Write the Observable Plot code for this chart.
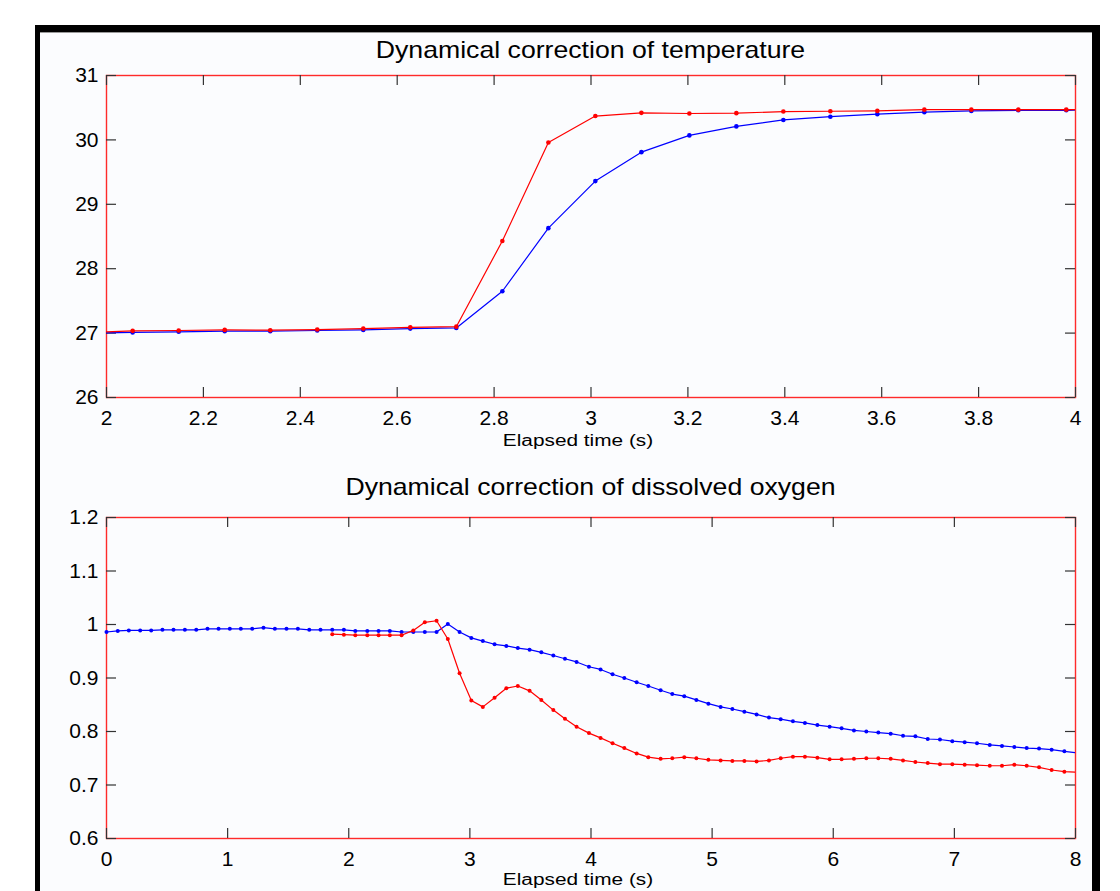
<!DOCTYPE html>
<html><head><meta charset="utf-8">
<script src="https://cdn.jsdelivr.net/npm/d3@7"></script>
<script src="https://cdn.jsdelivr.net/npm/@observablehq/plot@0.6"></script>
<style>
html,body{margin:0;padding:0;background:#fff;width:1120px;height:891px;overflow:hidden;font-family:"Liberation Sans",Arial,Helvetica,sans-serif;}
#frame{position:absolute;left:35px;top:25px;width:1052px;height:900px;border-left:5px solid #000;border-right:8px solid #000;border-top:7px solid #000;background:#fbfcfe;box-shadow:inset 0 1px 0 #999;}
.title{position:absolute;left:106px;width:969px;text-align:center;font-size:24px;line-height:28px;color:#000;white-space:nowrap;transform:scaleX(1.11);transform-origin:center;}
.xlab{position:absolute;left:78px;width:1000px;text-align:center;font-size:16px;line-height:18px;color:#000;white-space:nowrap;transform:scaleX(1.3);transform-origin:500px 50%;}
.chart{position:absolute;left:40px;}
</style></head>
<body>
<div id="frame"></div>
<div class="title" style="top:36px">Dynamical correction of temperature</div>
<div class="chart" id="c1" style="top:60px"></div>
<div class="xlab" style="top:432px">Elapsed time (s)</div>
<div class="title" style="top:473px">Dynamical correction of dissolved oxygen</div>
<div class="chart" id="c2" style="top:500px"></div>
<div class="xlab" style="top:871px">Elapsed time (s)</div>
<script>
// ---- Temperature panel ----
const tempTime = [1.960, 2.054, 2.149, 2.244, 2.338, 2.435, 2.530, 2.627, 2.722, 2.817, 2.912, 3.009, 3.104, 3.203, 3.300, 3.397, 3.494, 3.591, 3.688, 3.785, 3.882, 3.981, 4.078];
const tempRaw = [27.00, 27.01, 27.02, 27.03, 27.03, 27.04, 27.05, 27.07, 27.08, 27.65, 28.63, 29.36, 29.81, 30.07, 30.21, 30.31, 30.36, 30.40, 30.43, 30.45, 30.46, 30.46, 30.47];
const tempCorr = [27.01, 27.035, 27.04, 27.05, 27.045, 27.055, 27.07, 27.09, 27.10, 28.43, 29.96, 30.37, 30.42, 30.41, 30.415, 30.44, 30.445, 30.45, 30.47, 30.47, 30.47, 30.47, 30.47];
const tempXTicks = [2, 2.2, 2.4, 2.6, 2.8, 3, 3.2, 3.4, 3.6, 3.8, 4];
const tempYTicks = [26, 27, 28, 29, 30, 31];

// ---- Dissolved oxygen panel ----
const doTime = [0.000, 0.093, 0.184, 0.278, 0.369, 0.462, 0.553, 0.647, 0.741, 0.834, 0.925, 1.018, 1.109, 1.203, 1.296, 1.390, 1.486, 1.580, 1.674, 1.767,
  1.864, 1.960, 2.054, 2.153, 2.246, 2.339, 2.436, 2.533, 2.628, 2.725, 2.818, 2.915, 3.012, 3.107, 3.204, 3.301, 3.396, 3.493, 3.590, 3.689,
  3.785, 3.881, 3.983, 4.079, 4.178, 4.275, 4.377, 4.473, 4.575, 4.671, 4.770, 4.870, 4.969, 5.070, 5.167, 5.266, 5.367, 5.469, 5.566, 5.667,
  5.766, 5.869, 5.970, 6.069, 6.171, 6.273, 6.372, 6.474, 6.576, 6.678, 6.780, 6.881, 6.983, 7.085, 7.187, 7.292, 7.393, 7.495, 7.597, 7.699,
  7.803, 7.908, 8.010];
const doRaw = [0.986, 0.988, 0.989, 0.989, 0.989, 0.990, 0.990, 0.990, 0.990, 0.992, 0.992, 0.992, 0.992, 0.992, 0.994, 0.992, 0.992, 0.992, 0.990, 0.990,
  0.990, 0.990, 0.988, 0.988, 0.988, 0.988, 0.986, 0.986, 0.986, 0.986, 1.001, 0.986, 0.975, 0.969, 0.963, 0.960, 0.956, 0.953, 0.948, 0.942,
  0.936, 0.930, 0.921, 0.916, 0.907, 0.900, 0.892, 0.885, 0.877, 0.870, 0.866, 0.859, 0.852, 0.846, 0.842, 0.837, 0.832, 0.826, 0.823, 0.819,
  0.816, 0.812, 0.809, 0.806, 0.802, 0.800, 0.798, 0.796, 0.792, 0.791, 0.786, 0.785, 0.782, 0.780, 0.778, 0.775, 0.773, 0.771, 0.769, 0.768,
  0.766, 0.763, 0.760];
// corrected series starts at the 21st sample (t = 1.864 s)
const doCorrStart = 20;
const doCorr = [0.982, 0.981, 0.980, 0.980, 0.980, 0.980, 0.980, 0.989, 1.004, 1.007, 0.973, 0.909, 0.858, 0.846, 0.863, 0.881, 0.885, 0.876, 0.859, 0.840,
  0.824, 0.809, 0.797, 0.788, 0.778, 0.769, 0.759, 0.752, 0.749, 0.750, 0.752, 0.750, 0.747, 0.746, 0.745, 0.745, 0.744, 0.746, 0.750, 0.753,
  0.753, 0.751, 0.748, 0.748, 0.749, 0.750, 0.750, 0.749, 0.746, 0.743, 0.741, 0.739, 0.739, 0.738, 0.737, 0.736, 0.736, 0.738, 0.736, 0.733,
  0.728, 0.725, 0.724];
const doXTicks = [0, 1, 2, 3, 4, 5, 6, 7, 8];
const doYTicks = [0.6, 0.7, 0.8, 0.9, 1.0, 1.1, 1.2];

const fmt = d => String(+(+d).toFixed(2));
const FONT = '"Liberation Sans", Arial, Helvetica, sans-serif';

function panel({xDomain, yDomain, xTicks, yTicks, raw, corr, height, marginTop, marginBottom, r}) {
  const width = 1052, marginLeft = 66, marginRight = 17;
  const plotW = width - marginLeft - marginRight;
  const plotH = height - marginTop - marginBottom;
  const tick = 10;
  const inX = d => d.t >= xDomain[0] && d.t <= xDomain[1];
  return Plot.plot({
    width, height, marginLeft, marginRight, marginTop, marginBottom,
    style: {background: "transparent", color: "#000", fontFamily: FONT, fontSize: "21px", overflow: "visible"},
    x: {domain: xDomain, label: null},
    y: {domain: yDomain, label: null},
    marks: [
      Plot.frame({stroke: "#ff2a2a", strokeWidth: 1.4}),
      Plot.ruleX(xTicks, {insetBottom: plotH - tick, stroke: "#333", strokeWidth: 1.2}),
      Plot.ruleX(xTicks, {insetTop: plotH - tick, stroke: "#333", strokeWidth: 1.2}),
      Plot.ruleY(yTicks, {insetRight: plotW - tick, stroke: "#333", strokeWidth: 1.2}),
      Plot.ruleY(yTicks, {insetLeft: plotW - tick, stroke: "#333", strokeWidth: 1.2}),
      Plot.axisX(xTicks, {tickSize: 0, tickPadding: 13, tickFormat: fmt, fontSize: 21, label: null, fill: "#000"}),
      Plot.axisY(yTicks, {tickSize: 0, tickPadding: 8, tickFormat: fmt, fontSize: 21, label: null, fill: "#000"}),
      Plot.line(raw, {x: "t", y: "v", stroke: "#0000ff", strokeWidth: 1.2, clip: true}),
      Plot.dot(raw, {filter: inX, x: "t", y: "v", r, fill: "#0000ff", stroke: "none"}),
      Plot.line(corr, {x: "t", y: "v", stroke: "#ff0000", strokeWidth: 1.2, clip: true}),
      Plot.dot(corr, {filter: inX, x: "t", y: "v", r, fill: "#ff0000", stroke: "none"})
    ]
  });
}

const tempRawRows = tempTime.map((t, i) => ({t, v: tempRaw[i]}));
const tempCorrRows = tempTime.map((t, i) => ({t, v: tempCorr[i]}));
const doRawRows = doTime.map((t, i) => ({t, v: doRaw[i]}));
const doCorrRows = doCorr.map((v, i) => ({t: doTime[i + doCorrStart], v}));

document.getElementById("c1").append(panel({
  xDomain: [2, 4], yDomain: [26, 31], xTicks: tempXTicks, yTicks: tempYTicks,
  raw: tempRawRows, corr: tempCorrRows, height: 392, marginTop: 15, marginBottom: 55, r: 2.3
}));
document.getElementById("c2").append(panel({
  xDomain: [0, 8], yDomain: [0.6, 1.2], xTicks: doXTicks, yTicks: doYTicks,
  raw: doRawRows, corr: doCorrRows, height: 378, marginTop: 17, marginBottom: 40, r: 2
}));
</script>
</body></html>
